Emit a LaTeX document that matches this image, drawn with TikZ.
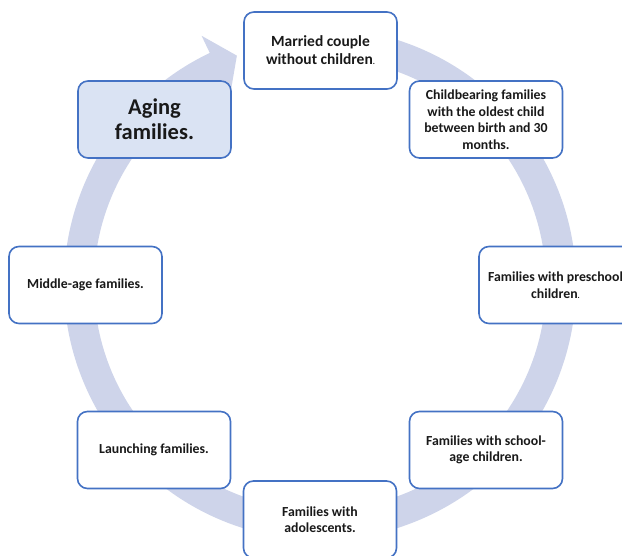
\documentclass[tikz,border=0pt]{standalone}
\usepackage{fontspec}
\setmainfont{Carlito}
\definecolor{bandc}{RGB}{206,212,234}
\definecolor{boxline}{RGB}{68,114,196}
\definecolor{agingfill}{RGB}{218,227,243}
\begin{document}
\begin{tikzpicture}[x=1pt,y=1pt,
  stage/.style={draw=boxline, line width=1.6pt, fill=white, rounded corners=10pt,
    minimum width=153pt, minimum height=77pt, inner sep=2pt, align=center,
    font=\bfseries\fontsize{13.8}{16.5}\selectfont, text=black!90},
  bigstage/.style={stage, font=\bfseries\fontsize{15.5}{18}\selectfont},
  agingbox/.style={stage, fill=agingfill, font=\bfseries\fontsize{22.5}{25}\selectfont}]
\useasboundingbox (0,0) rectangle (622,556);
\clip (0,0) rectangle (622,556);
\fill[white] (0,0) rectangle (622,556);
% circular arrow
\begin{scope}[shift={(320,272)}]
\fill[bandc] (115.5:226pt) -- (115.5:209pt) -- (110:243pt) -- (115.5:275pt) -- (115.5:256pt)
  arc[start angle=115.5, end angle=460, radius=256pt]
  -- (460:226pt)
  arc[start angle=460, end angle=115.5, radius=226pt] -- cycle;
\end{scope}
\node[bigstage] (n1) at (320.5,505.5) {Married couple\\without children{\fontsize{8}{9}\selectfont.}};
\node[stage] (n2) at (486,436.5) {Childbearing families\\with the oldest child\\between birth and 30\\months.};
\node[stage] (n3) at (555.5,271) {Families with preschool\\children{\fontsize{8}{9}\selectfont.}};
\node[stage] (n4) at (486,106) {Families with school-\\age children.};
\node[stage] (n5) at (320,36.5) {Families with\\adolescents.};
\node[stage] (n6) at (154,106) {Launching families.};
\node[stage] (n7) at (85.5,271) {Middle-age families.};
\node[agingbox] (n8) at (154.5,436.5) {Aging\\families.};
\end{tikzpicture}
\end{document}
